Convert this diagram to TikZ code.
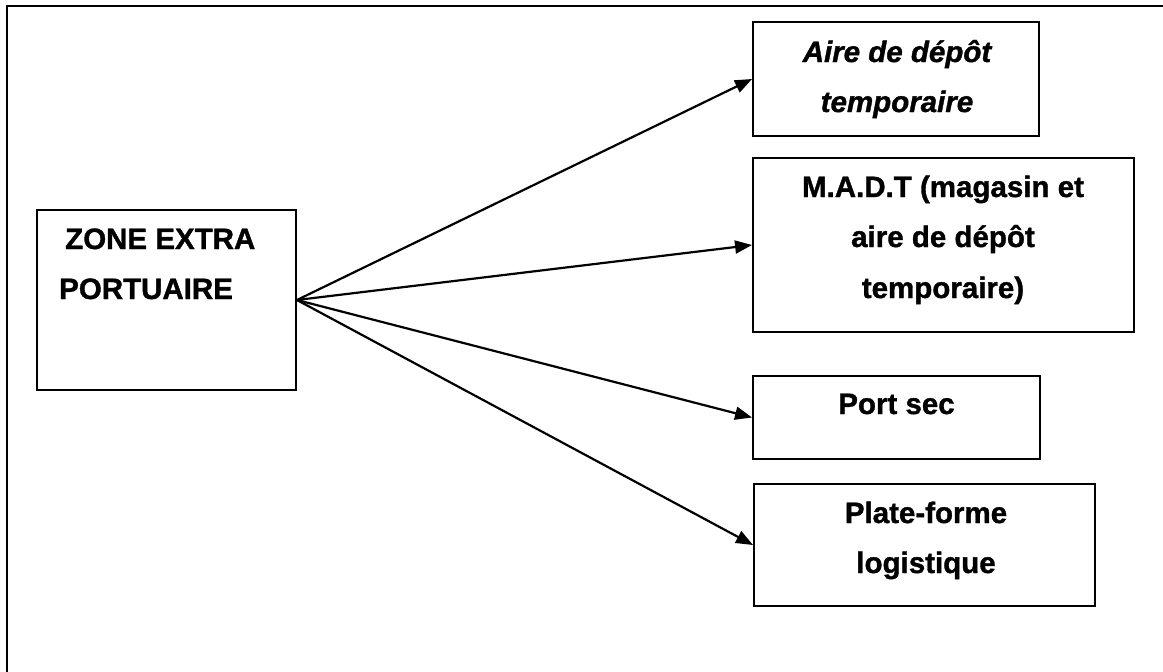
\documentclass[tikz,border=0pt]{standalone}
\usepackage{fontspec}
\setmainfont{Liberation Sans}[
  BoldFeatures={FakeBold=1.2},
  BoldItalicFeatures={FakeBold=1.2}]
\usetikzlibrary{arrows.meta}
\begin{document}
\begin{tikzpicture}[x=1pt,y=-1pt,
  box/.style={draw, line width=1.9pt, inner sep=0pt},
  lbl/.style={anchor=base, inner sep=0pt, font=\fontsize{29.5}{51}\selectfont\bfseries},
  ilbl/.style={lbl, font=\fontsize{29.5}{51}\selectfont\bfseries\itshape},
  link/.style={line width=2.2pt, -{Triangle[length=17pt,width=13pt]}}]
  \useasboundingbox (0,0) rectangle (1163,672);

  % open frame (top and left sides)
  \draw[line width=2.2pt] (7,672) -- (7,6) -- (1163,6);

  % boxes
  \node[box, minimum width=259pt, minimum height=180pt] (zone) at (166.5,300) {};
  \node[box, minimum width=286pt, minimum height=114pt] (aire) at (896,79) {};
  \node[box, minimum width=381pt, minimum height=174pt] (madt) at (943.5,245) {};
  \node[box, minimum width=287pt, minimum height=83pt] (port) at (896.5,417.5) {};
  \node[box, minimum width=341pt, minimum height=122pt] (plate) at (924.5,545) {};

  % labels
  \node[lbl, anchor=base west] (zone1) at (65,249) {ZONE EXTRA};
  \node[lbl, anchor=base west] (zone2) at (59,299) {PORTUAIRE};

  \node[ilbl] (aire1) at (897,62) {Aire de dépôt};
  \node[ilbl] (aire2) at (897,112) {temporaire};

  \node[lbl] (madt1) at (943,197) {M.A.D.T (magasin et};
  \node[lbl] (madt2) at (943,247) {aire de dépôt};
  \node[lbl] (madt3) at (943,298) {temporaire)};

  \node[lbl] (port1) at (896.5,414) {Port sec};

  \node[lbl] (plate1) at (926,523) {Plate-forme};
  \node[lbl] (plate2) at (926,573) {logistique};

  % connectors
  \draw[link] (zone.east) -- (aire.west);
  \draw[link] (zone.east) -- (madt.west);
  \draw[link] (zone.east) -- (port.west);
  \draw[link] (zone.east) -- (plate.west);
\end{tikzpicture}
\end{document}
